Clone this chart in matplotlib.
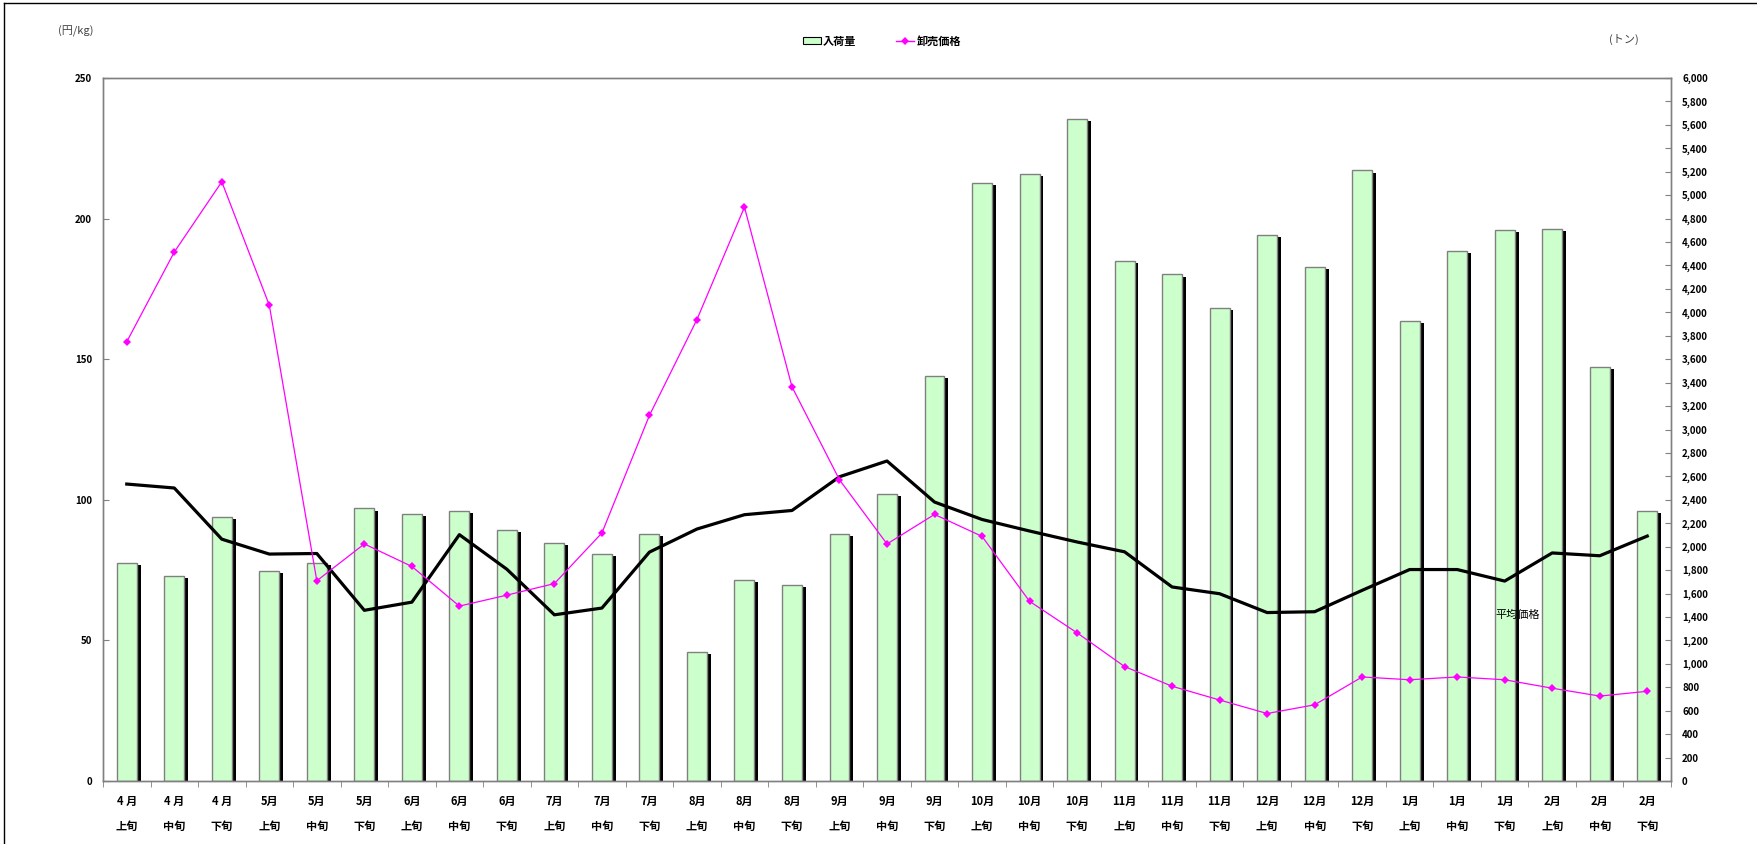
import numpy as np
import matplotlib
matplotlib.use('Agg')
import matplotlib.pyplot as plt
import matplotlib.patheffects as pe
from matplotlib.patches import Patch
from matplotlib.lines import Line2D
from matplotlib.ticker import FuncFormatter, MultipleLocator, FixedLocator

plt.rcParams['font.family'] = ['Noto Sans CJK JP', 'DejaVu Sans']

# data
months = ['4 月'] * 3 + ['5月'] * 3 + ['6月'] * 3 + ['7月'] * 3 + ['8月'] * 3 + ['9月'] * 3 \
    + ['10月'] * 3 + ['11月'] * 3 + ['12月'] * 3 + ['1月'] * 3 + ['2月'] * 3
periods = ['上旬', '中旬', '下旬'] * 11

nyuka = [1862, 1747, 2252, 1789, 1862, 2326, 2280, 2308, 2141, 2030, 1936,
         2110, 1099, 1716, 1677, 2110, 2451, 3457, 5105, 5184, 5654, 4435,
         4323, 4037, 4661, 4388, 5211, 3926, 4525, 4703, 4713, 3536, 2303]
oroshi = [156.2, 188.1, 213.1, 169.2, 71.2, 84.3, 76.3, 62.2, 66.1, 70.2, 88.2,
          130.0, 164.1, 204.1, 140.2, 107.1, 84.3, 94.8, 87.0, 63.9, 52.7, 40.7,
          33.7, 28.8, 24.0, 27.1, 37.0, 36.0, 37.0, 36.0, 33.0, 30.2, 31.9]
heikin = [105.6, 104.2, 86.0, 80.7, 80.9, 60.7, 63.6, 87.6, 75.3, 59.1, 61.5,
          81.4, 89.6, 94.7, 96.2, 108.2, 113.8, 99.2, 93.0, 88.9, 85.0, 81.5,
          69.0, 66.6, 59.9, 60.2, 67.8, 75.2, 75.2, 71.1, 81.1, 80.1, 87.1]

x = np.arange(len(nyuka))
grey = '#808080'

fig = plt.figure(figsize=(17.58, 8.44), dpi=100)
ax = fig.add_axes([103 / 1758, 63 / 844, 1568 / 1758, 703 / 844])
ax2 = ax.twinx()

# bars (tons) on the right axis
bars = ax2.bar(x, nyuka, width=0.42, color='#CCFFCC', edgecolor=grey, linewidth=1)
for b in bars:
    b.set_path_effects([pe.SimplePatchShadow(offset=(2.8, -1.5), shadow_rgbFace='black', alpha=1),
                        pe.Normal()])
ax2.set_ylim(0, 6000)
ax2.yaxis.set_major_locator(MultipleLocator(200))
ax2.yaxis.set_major_formatter(FuncFormatter(lambda v, p: f'{int(v):,}'))

# price lines on the left axis, drawn above the bars
ax.set_zorder(ax2.get_zorder() + 1)
ax.patch.set_visible(False)
ax.plot(x, heikin, color='black', linewidth=2.3, zorder=3)
ax.plot(x, oroshi, color='#FF00FF', linewidth=0.9, marker='D', markersize=4,
        markeredgewidth=0, zorder=4)
ax.set_ylim(0, 250)
ax.yaxis.set_major_locator(MultipleLocator(50))
ax.set_xlim(-0.5, len(x) - 0.5)

ax.set_xticks(x)
ax.set_xticklabels([f'{m}\n{p}' for m, p in zip(months, periods)], linespacing=2.2)
ax.xaxis.set_minor_locator(FixedLocator(np.arange(-0.5, len(x), 1)))
ax.tick_params(axis='x', which='major', length=0, pad=10, labelsize=8)
ax.tick_params(axis='x', which='minor', length=4, color=grey, direction='out')
ax.tick_params(axis='y', direction='in', length=4, color=grey, pad=8, labelsize=7)
ax2.tick_params(axis='y', direction='in', length=4, color=grey, pad=8, labelsize=7)
for lab in ax.get_xticklabels() + ax.get_yticklabels() + ax2.get_yticklabels():
    lab.set_fontweight('bold')

for a in (ax, ax2):
    for s in a.spines.values():
        s.set_color(grey)
        s.set_linewidth(1)

ax.text(1518, 844 - 615, '平均価格', transform=None, fontsize=8, ha='center', va='center')

fig.text(76 / 1758, 1 - 31 / 844, '(円/kg)', fontsize=8, color='#444444', ha='center', va='center')
fig.text(1624 / 1758, 1 - 39 / 844, '(トン)', fontsize=8, color='#444444', ha='center', va='center')

handles = [Patch(facecolor='#CCFFCC', edgecolor='black', linewidth=0.8),
           Line2D([], [], color='#FF00FF', linewidth=1, marker='D', markersize=4, markeredgewidth=0)]
leg = fig.legend(handles, ['入荷量', '卸売価格'], loc='center', ncol=2,
                 bbox_to_anchor=(882 / 1758, 1 - 41 / 844), frameon=False,
                 prop={'size': 8, 'weight': 'bold'}, columnspacing=3.6,
                 handlelength=1.6, handleheight=0.6, handletextpad=0.2)

# chart area border
fig.add_artist(Line2D([0.002, 0.002], [0, 0.997], color='black', linewidth=1, transform=fig.transFigure))
fig.add_artist(Line2D([0.002, 1], [0.997, 0.997], color='black', linewidth=1, transform=fig.transFigure))

fig.savefig('out.png', dpi=100)
